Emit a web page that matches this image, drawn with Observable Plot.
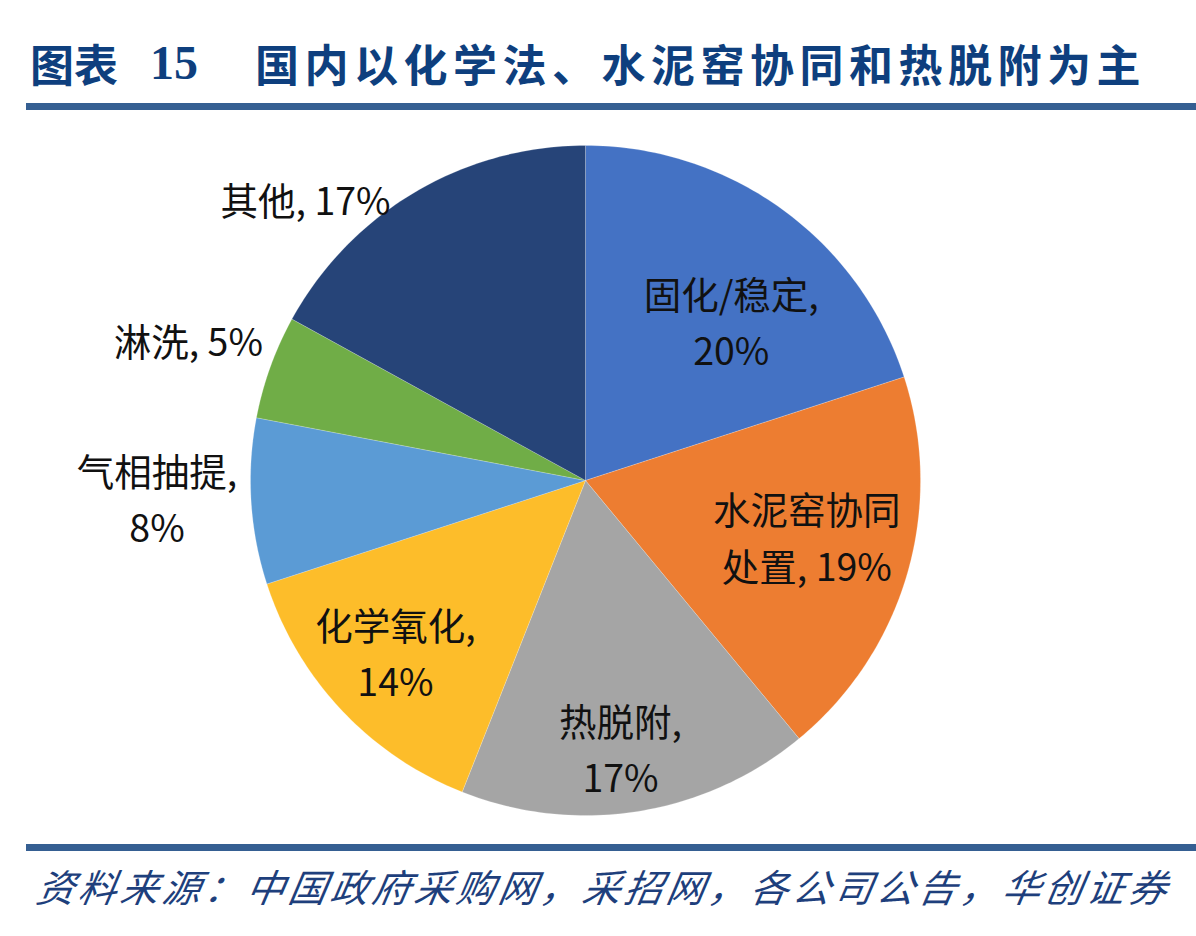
<!DOCTYPE html>
<html>
<head>
<meta charset="utf-8">
<script src="https://cdn.jsdelivr.net/npm/d3@7"></script>
<script src="https://cdn.jsdelivr.net/npm/@observablehq/plot@0.6"></script>
<style>
  html, body { margin: 0; padding: 0; background: #fff; }
  #page { position: relative; width: 1196px; height: 936px; overflow: hidden; background: #fff; }
  .title { position: absolute; top: 34px; color: #0E3F7E; font-family: "Noto Sans CJK SC", sans-serif; font-weight: 700; font-size: 44px; line-height: 58px; white-space: nowrap; }
  .num { font-family: "Liberation Serif", serif; font-weight: 700; font-size: 48px; }
  .rule { position: absolute; left: 26px; right: 0; height: 7px; background: #355F92; }
  #source { position: absolute; left: 33px; top: 860px; color: #1E3F7C; font-family: "Noto Sans CJK SC", sans-serif; font-style: italic; font-size: 38px; letter-spacing: 4px; line-height: 52px; white-space: nowrap; transform: skewX(-10deg); transform-origin: left bottom; }
  #chart { position: absolute; left: 0; top: 130px; }
</style>
</head>
<body>
<div id="page">
  <div class="title" style="left:30px;">图表</div>
  <div class="title num" style="left:150px;">15</div>
  <div class="title" style="left:255px; letter-spacing:5.5px;">国内以化学法、水泥窑协同和热脱附为主</div>
  <div class="rule" style="top:103px;"></div>
  <div id="chart"></div>
  <div class="rule" style="top:844px;"></div>
  <div id="source">资料来源：中国政府采购网，采招网，各公司公告，华创证券</div>
</div>
<script>
// ---- data ----
const categories = ["固化/稳定", "水泥窑协同处置", "热脱附", "化学氧化", "气相抽提", "淋洗", "其他"];
const shares = [20, 19, 17, 14, 8, 5, 17];
const labels = ["固化/稳定,\n20%", "水泥窑协同\n处置, 19%", "热脱附,\n17%", "化学氧化,\n14%", "气相抽提,\n8%", "淋洗, 5%", "其他, 17%"];
const colors = ["#4472C4", "#ED7D31", "#A5A5A5", "#FDBD2A", "#5B9BD5", "#70AD47", "#264478"];

// ---- layout (pixels inside the SVG) ----
const W = 1196, H = 700;
const cx = 585, cy = 350, R = 335;
// label placement: [radius as fraction of R, angle offset in degrees from slice mid-angle]
const labelLayout = [[0.65, 6], [0.68, -2.5], [0.80, 1.5], [0.76, 1.5], [1.28, 1.5], [1.26, 0], [1.19, -14]];

const table = categories.map((c, i) => ({category: c, value: shares[i], label: labels[i]}));
const arcs = d3.pie().sort(null).value(d => d.value)(table);

// polygon vertices for each slice
const pts = [];
arcs.forEach(a => {
  const c = a.data.category;
  pts.push({category: c, x: cx, y: cy});
  const n = Math.max(2, Math.ceil((a.endAngle - a.startAngle) / (Math.PI / 180)));
  for (let k = 0; k <= n; k++) {
    const t = a.startAngle + (a.endAngle - a.startAngle) * k / n;
    pts.push({category: c, x: cx + R * Math.sin(t), y: cy - R * Math.cos(t)});
  }
  pts.push({category: c, x: cx, y: cy});
});

const labelPts = arcs.map((a, i) => {
  const [f, da] = labelLayout[i];
  const t = (a.startAngle + a.endAngle) / 2 + da * Math.PI / 180;
  return {label: a.data.label, x: cx + f * R * Math.sin(t), y: cy - f * R * Math.cos(t)};
});

const chart = Plot.plot({
  width: W,
  height: H,
  margin: 0,
  x: {domain: [0, W], range: [0, W], axis: null},
  y: {domain: [0, H], range: [0, H], axis: null},
  color: {domain: categories, range: colors, legend: false},
  style: {background: "transparent", overflow: "visible"},
  marks: [
    Plot.line(pts, {x: "x", y: "y", z: "category", fill: "category", stroke: "white", strokeWidth: 0.8, strokeOpacity: 0.25, curve: "linear-closed"}),
    Plot.text(labelPts, {x: "x", y: "y", text: "label", fill: "#111", fontSize: 37.5, lineHeight: 1.5, textAnchor: "middle", fontFamily: "'Noto Sans CJK SC', sans-serif"})
  ]
});
document.getElementById("chart").appendChild(chart);
</script>
</body>
</html>
